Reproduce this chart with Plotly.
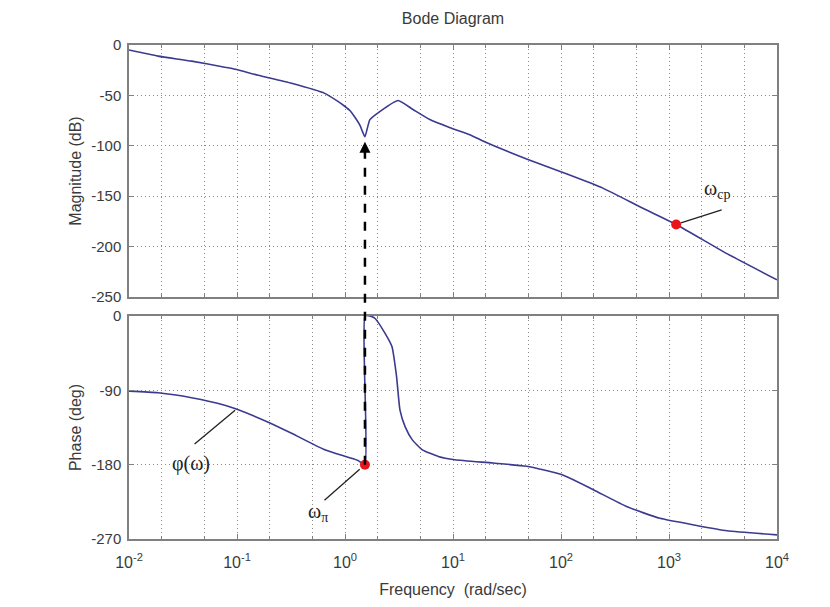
import math
import plotly.graph_objects as go

# ---- data ----
mag_freq = [0.01, 0.0186, 0.038, 0.077, 0.096, 0.157, 0.32, 0.65, 0.86, 1.0, 1.11, 1.24, 1.38, 1.44, 1.53,
            1.7, 2.1, 3.1, 4.26, 6.1, 9.4, 14.3, 20.6, 48, 101, 244, 573, 1165, 3440, 10000]
mag_db = [-5, -11, -16, -22, -24, -30, -38, -48, -56, -61, -65, -72, -80, -85, -91,
          -74, -66, -55, -64, -74, -82, -89, -97, -113, -126, -142, -162, -178, -207, -233]

ph_freq = [0.01, 0.0186, 0.038, 0.077, 0.1, 0.19, 0.32, 0.65, 1.32, 1.53, 1.53, 1.7, 1.9, 2.35, 2.72, 3.0,
           3.23, 3.6, 4.2, 5.2, 7.3, 10.4, 23.5, 48, 101, 197, 410, 825, 1700, 3440, 10000]
ph_deg = [-91, -93, -99, -108, -113, -128, -142, -162, -175, -180, 0, 0, -3, -21, -37, -73,
          -114, -134, -150, -162, -170, -174, -178, -182, -192, -210, -231, -245, -253, -260, -265]

w_pi = 1.53
phase_at_wpi = -180
mag_at_wpi = -93
w_cp = 1165
mag_at_wcp = -178
phi_label_freq = 0.096
phi_label_phase = -114

x_ticks = [0.01, 0.1, 1, 10, 100, 1000, 10000]
x_ticktext = ["10<sup>-2</sup>", "10<sup>-1</sup>", "10<sup>0</sup>", "10<sup>1</sup>",
              "10<sup>2</sup>", "10<sup>3</sup>", "10<sup>4</sup>"]
mag_ticks = [0, -50, -100, -150, -200, -250]
ph_ticks = [0, -90, -180, -270]
mag_range = [-250, 0]
ph_range = [-270, 0]

top_dom = [0.4899, 1.0]
bot_dom = [0.0, 0.4514]

line_col = "#3a3a90"
grid_col = "#8a8a8a"
axis_col = "#808080"
font_col = "#3a3a3a"
dotdash = "1px,3px"

fig = go.Figure()
fig.add_trace(go.Scatter(x=mag_freq, y=mag_db, mode="lines",
                         line=dict(color=line_col, width=1.6, shape="spline", smoothing=0.5),
                         xaxis="x", yaxis="y", showlegend=False))
fig.add_trace(go.Scatter(x=ph_freq, y=ph_deg, mode="lines",
                         line=dict(color=line_col, width=1.6, shape="spline", smoothing=0.5),
                         xaxis="x2", yaxis="y2", showlegend=False))


def to_paper(v, rng, dom):
    return dom[0] + (v - rng[0]) / (rng[1] - rng[0]) * (dom[1] - dom[0])


# dashed vertical connector (phase crossing -> magnitude)
fig.add_shape(type="line", xref="x", yref="paper", x0=w_pi, x1=w_pi,
              y0=to_paper(phase_at_wpi, ph_range, bot_dom),
              y1=to_paper(mag_at_wpi - 10, mag_range, top_dom),
              line=dict(color="black", width=2.5, dash="dash"), layer="above")
fig.add_annotation(x=math.log10(w_pi), y=mag_at_wpi - 3, xref="x", yref="y", ax=0, ay=14, text="",
                   showarrow=True, arrowhead=2, arrowsize=1.1, arrowwidth=2, arrowcolor="black")

# red points
fig.add_trace(go.Scatter(x=[w_cp], y=[mag_at_wcp], mode="markers", marker=dict(color="#e8161b", size=10),
                         xaxis="x", yaxis="y", showlegend=False))
fig.add_trace(go.Scatter(x=[w_pi], y=[phase_at_wpi], mode="markers", marker=dict(color="#e8161b", size=10),
                         xaxis="x2", yaxis="y2", showlegend=False))

serif = "Liberation Serif"
lab_font = dict(family=serif, size=20, color="#222")
# omega_cp label
fig.add_annotation(x=math.log10(w_cp), y=mag_at_wcp, xref="x", yref="y", ax=47, ay=-15, text="",
                   showarrow=True, arrowhead=0, arrowwidth=1.3, arrowcolor="#222", standoff=5)
fig.add_annotation(x=math.log10(w_cp), y=mag_at_wcp, xref="x", yref="y", xshift=41, yshift=35,
                   showarrow=False, text="ω<sub>cp</sub>", font=lab_font)
# omega_pi label
fig.add_annotation(x=math.log10(w_pi), y=phase_at_wpi, xref="x2", yref="y2", ax=-42, ay=37, text="",
                   showarrow=True, arrowhead=0, arrowwidth=1.3, arrowcolor="#222", standoff=7)
fig.add_annotation(x=math.log10(w_pi), y=phase_at_wpi, xref="x2", yref="y2", xshift=-47, yshift=-48,
                   showarrow=False, text="ω<sub>π</sub>", font=lab_font)
# phi(omega) label
fig.add_annotation(x=math.log10(phi_label_freq), y=phi_label_phase, xref="x2", yref="y2", ax=-42, ay=35,
                   text="", showarrow=True, arrowhead=0, arrowwidth=1.3, arrowcolor="#222", standoff=0)
fig.add_annotation(x=math.log10(phi_label_freq), y=phi_label_phase, xref="x2", yref="y2", xshift=-44,
                   yshift=-53, showarrow=False, text="φ(ω)", font=lab_font)

common_x = dict(type="log", range=[-2, 4], tickvals=x_ticks, ticktext=x_ticktext,
                showline=True, linecolor=axis_col, linewidth=1.5,
                mirror="ticks", ticks="inside", ticklen=5, tickcolor=axis_col, automargin=False,
                showgrid=True, gridcolor=grid_col, griddash=dotdash, gridwidth=1,
                minor=dict(ticks="inside", ticklen=3, tickcolor=axis_col, showgrid=True,
                           gridcolor=grid_col, griddash=dotdash, gridwidth=1),
                zeroline=False)
common_y = dict(showline=True, linecolor=axis_col, linewidth=1.5, mirror="ticks", ticks="inside",
                ticklen=5, tickcolor=axis_col, showgrid=True, gridcolor=grid_col, griddash=dotdash,
                gridwidth=1, zeroline=False, automargin=False, ticklabelstandoff=3,
                tickfont=dict(size=15, color=font_col))

# the page body adds an 8px offset, so margins are compensated
fig.update_layout(
    width=830, height=607,
    margin=dict(l=121, r=61, t=37, b=76),
    paper_bgcolor="white", plot_bgcolor="white",
    font=dict(family="Liberation Sans", size=15, color=font_col),
    title=dict(text="Bode Diagram", x=445 / 830, xanchor="center", y=1 - 10 / 607, yanchor="middle",
               font=dict(size=16, color=font_col)),
    xaxis=dict(common_x, domain=[0, 1], anchor="y", showticklabels=False, matches="x2"),
    xaxis2=dict(common_x, domain=[0, 1], anchor="y2", ticklabelstandoff=8,
                tickfont=dict(size=16, color=font_col),
                title=dict(text="Frequency  (rad/sec)", font=dict(size=16, color=font_col), standoff=14)),
    yaxis=dict(common_y, domain=top_dom, anchor="x", range=mag_range, tickvals=mag_ticks,
               ticktext=[str(v) for v in mag_ticks],
               title=dict(text="Magnitude (dB)", font=dict(size=16, color=font_col), standoff=6)),
    yaxis2=dict(common_y, domain=bot_dom, anchor="x2", range=ph_range, tickvals=ph_ticks,
                ticktext=[str(v) for v in ph_ticks],
                title=dict(text="Phase (deg)", font=dict(size=16, color=font_col), standoff=6)),
)

fig.write_html("out.html")
